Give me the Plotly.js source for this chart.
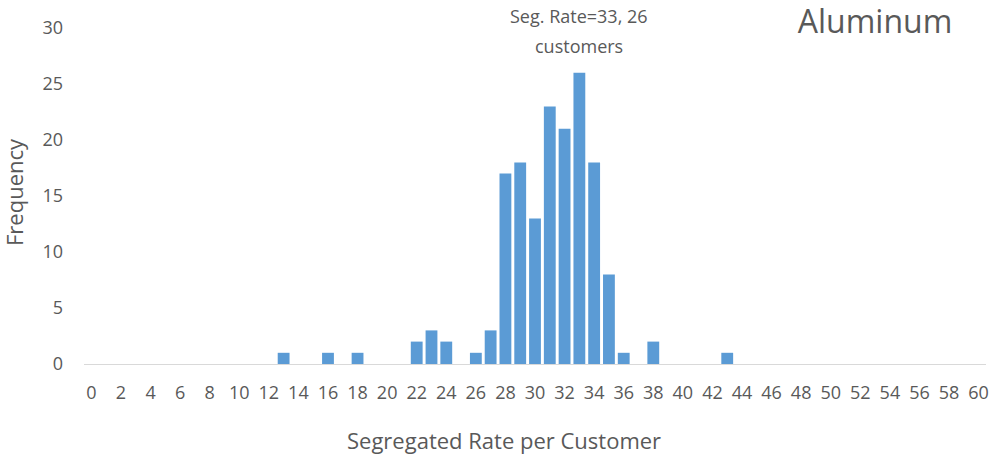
<!DOCTYPE html>
<html>
<head>
<meta charset="utf-8">
<script src="https://cdn.plot.ly/plotly-3.0.1.min.js"></script>
<style>
html,body{margin:0;padding:0;background:#fff;}
#chart{width:990px;height:454px;}
</style>
</head>
<body>
<div id="chart"></div>
<script>
const rates = [13, 16, 18, 22, 23, 24, 26, 27, 28, 29, 30, 31, 32, 33, 34, 35, 36, 38, 43];
const frequency = [1, 1, 1, 2, 3, 2, 1, 3, 17, 18, 13, 23, 21, 26, 18, 8, 1, 2, 1];
const xTickValues = [0,2,4,6,8,10,12,14,16,18,20,22,24,26,28,30,32,34,36,38,40,42,44,46,48,50,52,54,56,58,60];
const chartTitle = "Aluminum";
const xTitle = "Segregated Rate per Customer";
const yTitle = "Frequency";
const peakNoteLine1 = "Seg. Rate=33, 26";
const peakNoteLine2 = "customers";
const peakRate = 33;
const peakFreq = 26;

const textColor = "#595959";
const fontFamily = "Open Sans, Liberation Sans, sans-serif";

Plotly.newPlot("chart", [{
  type: "bar",
  x: rates,
  y: frequency,
  marker: {color: "#5B9BD5"},
  width: 0.8,
  hoverinfo: "x+y"
}], {
  width: 990,
  height: 454,
  margin: {l: 84, r: 4, t: 28, b: 90},
  paper_bgcolor: "#ffffff",
  plot_bgcolor: "#ffffff",
  showlegend: false,
  font: {family: fontFamily, color: textColor, size: 19},
  title: {
    text: chartTitle,
    font: {family: fontFamily, size: 32, color: textColor},
    x: 0.877, xanchor: "center", xref: "paper",
    y: 0.952, yanchor: "middle"
  },
  xaxis: {
    range: [-0.5, 60.5],
    tickvals: xTickValues,
    ticktext: xTickValues.map(String),
    showgrid: false,
    zeroline: false,
    showline: true,
    linecolor: "#d9d9d9",
    linewidth: 1,
    ticks: "",
    tickangle: 0,
    ticklabelstandoff: 12,
    tickfont: {family: fontFamily, size: 18, color: textColor},
    automargin: false
  },
  yaxis: {
    range: [0, 30],
    dtick: 5,
    showgrid: false,
    zeroline: false,
    showline: false,
    ticks: "",
    ticklabelstandoff: 20,
    tickfont: {family: fontFamily, size: 18, color: textColor},
    automargin: false
  },
  annotations: [
    {
      x: peakRate, y: 1, xref: "x", yref: "paper",
      xanchor: "center", yanchor: "middle",
      yshift: 12,
      text: peakNoteLine1, showarrow: false,
      font: {family: fontFamily, size: 18, color: textColor}
    },
    {
      x: peakRate, y: 1, xref: "x", yref: "paper",
      xanchor: "center", yanchor: "middle",
      yshift: -18,
      text: peakNoteLine2, showarrow: false,
      font: {family: fontFamily, size: 18, color: textColor}
    },
    {
      x: 504, y: 440, xref: "paper", yref: "paper",
      text: xTitle, showarrow: false,
      xanchor: "center", yanchor: "middle",
      font: {family: fontFamily, size: 22, color: textColor}
    },
    {
      x: 14, y: 192, xref: "paper", yref: "paper",
      text: yTitle, showarrow: false, textangle: -90,
      xanchor: "center", yanchor: "middle",
      font: {family: fontFamily, size: 22, color: textColor}
    }
  ].map(function (a) {
    if (a.xref === "paper" && a.x > 1) {
      // convert pixel placement to paper fraction of plot area
      a.x = (a.x - 84) / (990 - 84 - 4);
      a.y = (454 - 90 - a.y) / (454 - 90 - 28);
    }
    return a;
  })
}, {displayModeBar: false, staticPlot: true});
</script>
</body>
</html>
